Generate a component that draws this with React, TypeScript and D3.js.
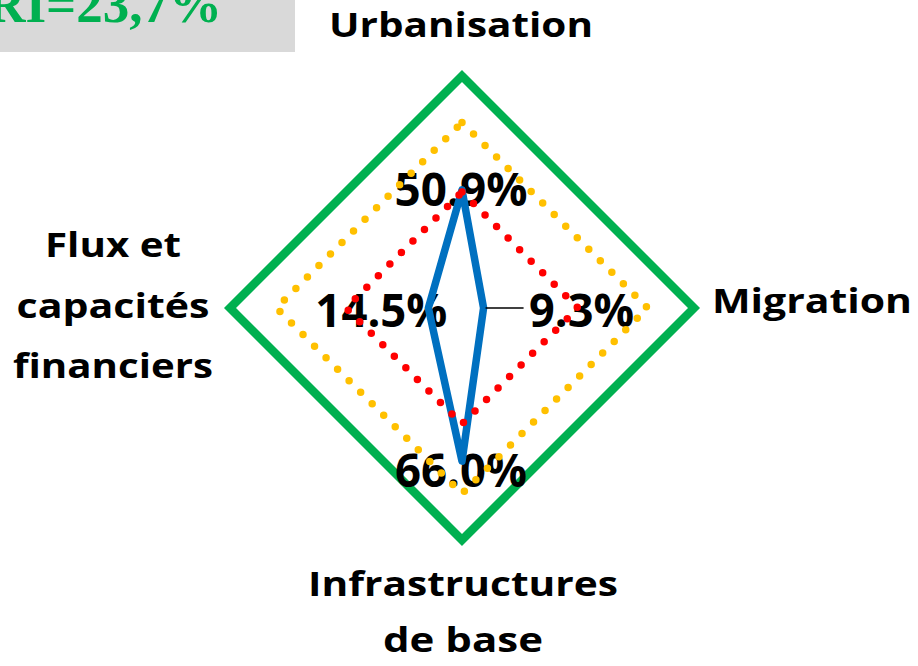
import React from 'react';
import * as d3 from 'd3';

// axes clockwise from the top
const axes = ['Urbanisation', 'Migration', 'Infrastructures de base', 'Flux et capacités financiers'];
const scores = [50.9, 9.3, 66.0, 14.5];
const seuilRouge = [50, 50, 50, 50];
const seuilJaune = [80, 80, 80, 80];
const seuilVert = [100, 100, 100, 100];
const iriLabel = 'IRI=23,7%';

const W = 918;
const H = 666;
const cx = 462;
const cy = 308;
const font = "'Open Sans', 'Noto Sans', sans-serif";

// where each axis title sits and how its lines are spread
const axisTitleLayout = [
  { x: 461, y: 37, lines: ['Urbanisation'], widths: [264], anchor: 'middle' },
  { x: 812, y: 313, lines: ['Migration'], widths: [200], anchor: 'middle' },
  { x: 463, y: 596, lines: ['Infrastructures', 'de base'], widths: [310, 160], anchor: 'middle', lh: 56 },
  { x: 113, y: 257, lines: ['Flux et', 'capacités', 'financiers'], widths: [136, 193, 200], anchor: 'middle', lh: 60.5 },
];

// value label offsets from the data point
const valueLayout = [
  { dx: -1, dy: 16, w: 133 },
  { dx: 98, dy: 19, w: 105 },
  { dx: -1, dy: 26, w: 132 },
  { dx: -47, dy: 19, w: 132 },
];

export default function App() {
  const r = d3.scaleLinear().domain([0, 100]).range([0, 232]);
  const angle = (i: number) => (i * 2 * Math.PI) / axes.length;
  const line = d3
    .lineRadial<number>()
    .angle((_, i) => angle(i))
    .radius((d) => r(d))
    .curve(d3.curveLinearClosed);
  const fmt = d3.format('.1f');

  const pts = scores.map((v, i) => d3.pointRadial(angle(i), r(v)));
  const migr = pts[1];

  return (
    <svg
      width={W}
      height={H}
      viewBox={`0 0 ${W} ${H}`}
      style={{ position: 'absolute', left: 0, top: 0, background: '#fff' }}
    >
      <rect x={0} y={0} width={295} height={52} fill="#D9D9D9" />
      <text
        x={222}
        y={22}
        textAnchor="end"
        fontFamily="'Liberation Serif', 'Times New Roman', serif"
        fontWeight="bold"
        fontSize={53}
        fill="#00B050"
      >
        {iriLabel}
      </text>

      <g transform={`translate(${cx},${cy})`}>
        <path d={line(seuilVert) ?? ''} fill="none" stroke="#00B050" strokeWidth={8.5} strokeLinejoin="miter" />

        {scores.map((v, i) => {
          const p = pts[i];
          const l = valueLayout[i];
          return (
            <text
              key={axes[i]}
              x={p[0] + l.dx}
              y={p[1] + l.dy}
              textAnchor="middle"
              fontFamily={font}
              fontWeight={700}
              fontSize={46}
              textLength={l.w}
              lengthAdjust="spacingAndGlyphs"
              fill="#000"
            >
              {fmt(v)}%
            </text>
          );
        })}

        <path d={line(scores) ?? ''} fill="none" stroke="#0070C0" strokeWidth={7.5} strokeLinejoin="round" />
        <line x1={migr[0] + 2} y1={0} x2={migr[0] + 40} y2={0} stroke="#000" strokeWidth={1.5} />

        <path
          d={line(seuilRouge) ?? ''}
          fill="none"
          stroke="#FF0000"
          strokeWidth={7.5}
          strokeLinecap="round"
          strokeDasharray="0 16.3"
        />
        <path
          d={line(seuilJaune) ?? ''}
          fill="none"
          stroke="#FFC000"
          strokeWidth={7.5}
          strokeLinecap="round"
          strokeDasharray="0 16.3"
        />
      </g>

      {axisTitleLayout.map((t, i) => (
        <text
          key={axes[i]}
          x={t.x}
          y={t.y}
          textAnchor={t.anchor}
          fontFamily={font}
          fontWeight={700}
          fontSize={34}
          fill="#000"
        >
          {t.lines.map((ln, j) => (
            <tspan
              key={ln}
              x={t.x}
              y={t.y + j * (t.lh ?? 0)}
              textLength={t.widths[j]}
              lengthAdjust="spacingAndGlyphs"
            >
              {ln}
            </tspan>
          ))}
        </text>
      ))}
    </svg>
  );
}
